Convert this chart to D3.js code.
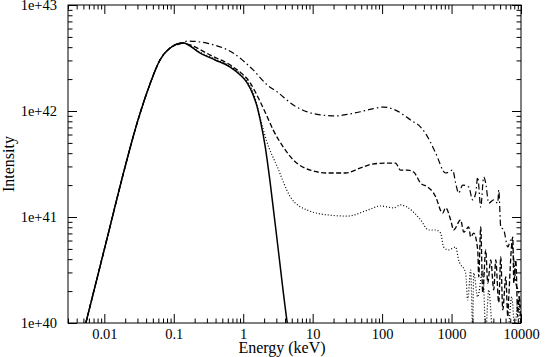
<!DOCTYPE html>
<html>
<head>
<meta charset="utf-8">
<script src="https://cdn.jsdelivr.net/npm/d3@7"></script>
<style>
  html, body { margin: 0; padding: 0; background: #fff; }
  svg { display: block; }
  text { font-family: "Liberation Serif", "Times New Roman", serif; fill: #000; }
</style>
</head>
<body>
<svg id="chart" width="545" height="357"></svg>
<script>
// ---------------- data (energy in keV, intensity) ----------------
const xTickValues = [0.01, 0.1, 1, 10, 100, 1000, 10000];
const xTickLabels = ["0.01", "0.1", "1", "10", "100", "1000", "10000"];
const yTickValues = [1e40, 1e41, 1e42, 1e43];
const yTickLabels = ["1e+40", "1e+41", "1e+42", "1e+43"];

// shared low-energy rise up to the peak
const riseE = [0.00542, 0.01127, 0.01855, 0.03055, 0.0455, 0.0634, 0.0885, 0.136];
const riseI = [1.0e40, 6.76e40, 2.49e41, 8.22e41, 1.80e42, 3.03e42, 3.93e42, 4.39e42];

// solid (thermal) tail
const solidE = [0.240, 0.394, 0.649, 0.905, 1.14, 1.39, 1.59, 1.76, 2.08, 2.45, 3.20, 4.31, 4.46];
const solidI = [3.52e42, 3.03e42, 2.6e42, 2.19e42, 1.84e42, 1.42e42, 1.09e42, 8.2e41, 4.57e41, 2.09e41, 4.88e40, 1.0e40, 8.6e39];

// dotted tail
const dottedE = [0.245, 0.40, 0.66, 0.92, 1.16, 1.40, 1.82, 2.15, 3.1, 4.77, 8.4, 18, 31.7, 61.5, 94.8, 146, 184, 284, 358, 468, 590, 696, 769, 908, 1146, 1265, 1597, 1708, 1888, 2015, 2084, 2381, 2811, 3106, 3431, 3919, 5113, 6455, 7366, 8150, 8996, 9940];
const dottedI = [3.55e42, 3.07e42, 2.63e42, 2.23e42, 1.88e42, 1.48e42, 7.87e41, 5.32e41, 2.97e41, 1.55e41, 1.16e41, 1.04e41, 1.02e41, 1.16e41, 1.27e41, 1.22e41, 1.30e41, 1.11e41, 9.4e40, 7.54e40, 7.54e40, 7.06e40, 5.21e40, 4.89e40, 5.21e40, 3.93e40, 2.96e40, 1.65e40, 3.16e40, 0.85e40, 2.96e40, 1.76e40, 3.16e40, 0.85e40, 2.05e40, 0.85e40, 0.85e40, 0.85e40, 1.76e40, 0.85e40, 1.65e40, 0.85e40];

// dashed tail
const dashedE = [0.172, 0.334, 0.717, 1.26, 1.76, 2.22, 2.71, 3.78, 5.27, 9.27, 16.3, 29.6, 48.8, 72.7, 120, 156, 184, 233, 284, 358, 452, 552, 590, 744, 822, 971, 1072, 1352, 1496, 1766, 1888, 2084, 2381, 2462, 2630, 2811, 3106, 3320, 3667, 4052, 4328, 4783, 5113, 5464, 6039, 6455, 6668, 7620, 7876, 8419, 8996, 9299, 9940];
const dashedI = [4.2e42, 3.37e42, 2.6e42, 1.84e42, 1.22e42, 8.8e41, 6.6e41, 4.57e41, 3.45e41, 2.77e41, 2.6e41, 2.6e41, 2.9e41, 3.16e41, 3.23e41, 3.23e41, 2.77e41, 2.77e41, 2.66e41, 2.09e41, 1.92e41, 1.68e41, 1.55e41, 1.09e41, 1.22e41, 9.4e40, 7.54e40, 9.4e40, 7.2e40, 8.05e40, 6.47e40, 7.06e40, 4.89e40, 2.72e40, 8.05e40, 1.92e40, 4.89e40, 2.38e40, 3.93e40, 2.05e40, 3.93e40, 1.55e40, 4.2e40, 1.33e40, 2.72e40, 1.14e40, 1.76e40, 6.47e40, 2.38e40, 3.93e40, 1.14e40, 1.76e40, 1.0e40];

// dash-dot tail
const dashDotE = [0.156, 0.334, 0.717, 1.39, 2.22, 3.1, 5.27, 8.4, 12.9, 21.3, 35, 61.5, 105, 156, 257, 358, 452, 590, 822, 1038, 1146, 1265, 1445, 1766, 2015, 2228, 2381, 2630, 2906, 3106, 3431, 4052, 4627, 4783, 5113, 5650, 6455, 7129, 7876, 8419, 9299, 9940];
const dashDotI = [4.57e42, 4.29e42, 3.52e42, 2.44e42, 1.76e42, 1.51e42, 1.14e42, 9.8e41, 9.2e41, 8.98e41, 9.4e41, 1.02e42, 1.09e42, 1.02e42, 8.22e41, 7.06e41, 5.7e41, 4.02e41, 2.6e41, 2.77e41, 2.09e41, 1.68e41, 2.0e41, 1.92e41, 1.45e41, 1.68e41, 2.38e41, 1.24e41, 2.38e41, 2.09e41, 1.35e41, 1.45e41, 1.35e41, 1.80e41, 8.05e40, 7.54e40, 5.21e40, 6.07e40, 3.93e40, 2.38e40, 1.92e40, 1.33e40];

// ---------------- layout ----------------
const svg = d3.select("#chart");
const L = 68, R = 521, T = 5, B = 323;

const x = d3.scaleLog().domain([0.003, 10000]).range([L, R]);
const y = d3.scaleLog().domain([1e40, 1e43]).range([B, T]);

function minorTicks(scale) {
  const [a, b] = scale.domain();
  const out = [];
  for (let e = Math.floor(Math.log10(a)); e <= Math.ceil(Math.log10(b)); e++) {
    for (let m = 2; m <= 9; m++) {
      const v = m * Math.pow(10, e);
      if (v >= a && v <= b) out.push(v);
    }
  }
  return out;
}
const xMinor = minorTicks(x);
const yMinor = minorTicks(y);
const MAJ = 9, MIN = 4.5;

function drawAxis(axisFn, scale, values, size, transform, labels) {
  const ax = axisFn(scale).tickValues(values).tickSizeInner(-size).tickSizeOuter(0);
  if (labels) {
    ax.tickFormat((d, i) => labels[i]);
  } else {
    ax.tickFormat("");
  }
  const g = svg.append("g").attr("transform", transform);
  g.call(ax);
  g.select(".domain").remove();
  g.selectAll("line").attr("stroke", "#000").attr("stroke-width", 1);
  g.selectAll("text").style("font-family", '"Liberation Serif", "Times New Roman", serif')
    .style("font-size", "14.5px").attr("fill", "#000");
  return { g, ax };
}

// bottom
const bx = d3.axisBottom(x).tickValues(xTickValues).tickSizeInner(-MAJ).tickSizeOuter(0).tickPadding(6)
  .tickFormat((d, i) => xTickLabels[i]);
const gB = svg.append("g").attr("transform", `translate(0,${B})`).call(bx);
gB.select(".domain").remove();
svg.append("g").attr("transform", `translate(0,${B})`)
  .call(d3.axisBottom(x).tickValues(xMinor).tickSizeInner(-MIN).tickSizeOuter(0).tickFormat(""))
  .select(".domain").remove();
// top
svg.append("g").attr("transform", `translate(0,${T})`)
  .call(d3.axisTop(x).tickValues(xTickValues).tickSizeInner(-MAJ).tickSizeOuter(0).tickFormat(""))
  .select(".domain").remove();
svg.append("g").attr("transform", `translate(0,${T})`)
  .call(d3.axisTop(x).tickValues(xMinor).tickSizeInner(-MIN).tickSizeOuter(0).tickFormat(""))
  .select(".domain").remove();
// left
const ly = d3.axisLeft(y).tickValues(yTickValues).tickSizeInner(-MAJ).tickSizeOuter(0).tickPadding(11)
  .tickFormat((d, i) => yTickLabels[i]);
const gL = svg.append("g").attr("transform", `translate(${L},0)`).call(ly);
gL.select(".domain").remove();
svg.append("g").attr("transform", `translate(${L},0)`)
  .call(d3.axisLeft(y).tickValues(yMinor).tickSizeInner(-MIN).tickSizeOuter(0).tickFormat(""))
  .select(".domain").remove();
// right
svg.append("g").attr("transform", `translate(${R},0)`)
  .call(d3.axisRight(y).tickValues(yTickValues).tickSizeInner(-MAJ).tickSizeOuter(0).tickFormat(""))
  .select(".domain").remove();
svg.append("g").attr("transform", `translate(${R},0)`)
  .call(d3.axisRight(y).tickValues(yMinor).tickSizeInner(-MIN).tickSizeOuter(0).tickFormat(""))
  .select(".domain").remove();

svg.selectAll(".tick line").attr("stroke", "#000").attr("stroke-width", 1);
svg.selectAll(".tick text")
  .style("font-family", '"Liberation Serif", "Times New Roman", serif')
  .style("font-size", "14.5px").attr("fill", "#000");

// frame
svg.append("rect").attr("x", L).attr("y", T).attr("width", R - L).attr("height", B - T)
  .attr("fill", "none").attr("stroke", "#000").attr("stroke-width", 1);

// clip
svg.append("clipPath").attr("id", "plotclip").append("rect")
  .attr("x", L).attr("y", T).attr("width", R - L).attr("height", B - T);

const line = d3.line().x(d => x(d[0])).y(d => y(d[1])).curve(d3.curveMonotoneX);
const build = (E, I) => riseE.map((e, i) => [e, riseI[i]]).concat(E.map((e, i) => [e, I[i]]));

const series = [
  { E: dottedE, I: dottedI, dash: "1,2", w: 1.2 },
  { E: dashedE, I: dashedI, dash: "5,2.5", w: 1.3 },
  { E: dashDotE, I: dashDotI, dash: "6,3,1.5,3", w: 1.2 },
  { E: solidE, I: solidI, dash: null, w: 1.5 }
];
const gLines = svg.append("g").attr("clip-path", "url(#plotclip)");
series.forEach(s => {
  gLines.append("path")
    .attr("d", line(build(s.E, s.I)))
    .attr("fill", "none")
    .attr("stroke", "#000")
    .attr("stroke-width", s.w)
    .attr("stroke-dasharray", s.dash)
    .attr("stroke-linejoin", "round");
});

// axis titles
svg.append("text").attr("x", 282).attr("y", 353).attr("text-anchor", "middle")
  .style("font-size", "16px").text("Energy (keV)");
svg.append("text").attr("transform", "translate(14,164) rotate(-90)").attr("text-anchor", "middle")
  .style("font-size", "16px").text("Intensity");
</script>
</body>
</html>
